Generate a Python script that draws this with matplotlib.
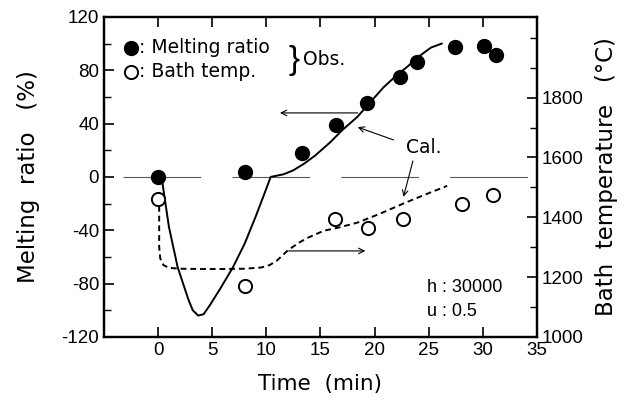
import numpy as np
import matplotlib
matplotlib.use("Agg")
import matplotlib.pyplot as plt
from matplotlib.ticker import MultipleLocator
from matplotlib import font_manager

plt.rcParams['axes.unicode_minus'] = False

# observed melting ratio (%)
obs_t = [0.0, 8.0, 13.3, 16.4, 19.3, 22.3, 23.9, 27.4, 30.1, 31.2]
obs_melt = [0.0, 4.0, 18.0, 39.0, 55.5, 75.0, 86.0, 97.5, 98.0, 91.5]

# observed bath temperature (C)
obs_tt = [0.0, 8.0, 16.3, 19.4, 22.6, 28.1, 30.9]
obs_temp = [1462, 1171, 1395, 1365, 1395, 1445, 1475]

# calculated melting ratio
cal_t = [0.4, 1.0, 1.8, 2.8, 3.2, 3.7, 4.2, 4.8, 5.8, 6.9, 8.0, 9.0, 9.8, 10.4,
         11.0, 11.6, 12.5, 13.5, 14.5, 15.9, 17.0, 18.4, 19.6, 20.8, 22.0,
         23.0, 24.2, 25.2, 26.2]
cal_melt = [-4.5, -37.5, -67.5, -92, -100, -104, -103, -96, -83, -68, -50, -30,
            -13, 0, 1, 2, 5, 10, 16, 26, 35, 45, 56, 67, 76, 82.5, 91, 97, 100]

# calculated bath temperature
calT_t = [0.1, 0.1, 0.2, 0.5, 1.0, 2.0, 4.0, 6.0, 8.0, 9.5, 10.3, 11.0, 12.0,
          13.0, 13.8, 15.3, 16.6, 18.4, 20.5, 22.6, 24.6, 26.7]
calT_temp = [1438, 1300, 1262, 1240, 1231, 1228, 1227, 1227, 1228, 1232, 1240,
             1256, 1290, 1315, 1331, 1355, 1365, 1382, 1412, 1445, 1475, 1505]

installed = {f.name for f in font_manager.fontManager.ttflist}
narrow = 'Liberation Sans Narrow' if 'Liberation Sans Narrow' in installed else 'Liberation Sans'
tickfont = [narrow, 'DejaVu Sans']

fig = plt.figure(figsize=(6.34, 4.03), dpi=100)
ax = fig.add_axes([0.164, 0.164, 0.683, 0.794])
ax2 = ax.twinx()

# zero reference line
ax.plot([-3.2, 34.6], [0, 0], color='0.35', lw=0.8, dashes=(70, 28))

ax.plot(cal_t, cal_melt, color='k', lw=1.4)
ax2.plot(calT_t, calT_temp, color='k', lw=1.4, ls=(0, (3, 2)))

ax.plot(obs_t, obs_melt, 'o', color='k', ms=10)
ax2.plot(obs_tt, obs_temp, 'o', mfc='white', mec='k', mew=1.4, ms=9.5)

ax.set_xlim(-5, 35)
ax.set_ylim(-120, 120)

ax.set_xticks(np.arange(0, 36, 5))
ax.yaxis.set_major_locator(MultipleLocator(40))
ax.yaxis.set_minor_locator(MultipleLocator(20))
ax2.set_yticks(np.arange(1000, 1801, 200))
ax2.yaxis.set_minor_locator(MultipleLocator(100))
ax2.set_ylim(1000, 2070)

ax.tick_params(axis='both', which='both', direction='in', top=True,
               labelsize=13.5, labelfontfamily=tickfont)
ax.tick_params(which='major', length=7, width=1.2)
ax.tick_params(which='minor', length=5, width=1.0)
ax2.tick_params(axis='y', which='both', direction='in', labelsize=13.5,
                labelfontfamily=tickfont)
ax2.tick_params(which='major', length=7, width=1.2)
ax2.tick_params(which='minor', length=5, width=1.0)
for a in (ax, ax2):
    for s in a.spines.values():
        s.set_linewidth(1.6)

ax.set_xlabel('Time  (min)', fontsize=15.5, va='center')
ax.xaxis.set_label_coords(0.5, -0.146)
ax.set_ylabel('Melting  ratio   (%)', fontsize=16.5, va='center')
ax.yaxis.set_label_coords(-0.175, 0.5)
ax2.set_ylabel('Bath  temperature   (°C)', fontsize=16.5, va='center')
ax2.yaxis.set_label_coords(1.16, 0.5)

# legend drawn by hand
ax.plot([-2.5], [96.8], 'o', color='k', ms=10)
ax.plot([-2.5], [78.8], 'o', mfc='white', mec='k', mew=1.4, ms=9.5)
ax.text(-1.8, 96.8, ': Melting ratio', fontsize=13.5, va='center')
ax.text(-1.8, 78.8, ': Bath temp.', fontsize=13.5, va='center')
ax.text(13.1, 87.5, '}', fontsize=24, va='center', ha='right', color='k',
        family=['Liberation Sans', 'DejaVu Sans'])
ax.text(13.4, 88, 'Obs.', fontsize=13.5, va='center')

# direction arrows
ax.annotate('', xy=(11.0, 48), xytext=(18.7, 48),
            arrowprops=dict(arrowstyle='->', lw=0.8, color='k'))
ax.annotate('', xy=(19.4, -55.5), xytext=(11.8, -55.5),
            arrowprops=dict(arrowstyle='->', lw=0.8, color='k'))

ax.text(24.5, 22, 'Cal.', fontsize=13.5, ha='center', va='center')
ax.annotate('', xy=(18.2, 38), xytext=(22.0, 27),
            arrowprops=dict(arrowstyle='->', lw=0.8, color='k'))
ax.annotate('', xy=(22.6, -17), xytext=(23.6, 14),
            arrowprops=dict(arrowstyle='->', lw=0.8, color='k'))

ax.text(24.8, -83, 'h : 30000', fontsize=13, va='center', family=tickfont)
ax.text(24.8, -101, 'u : 0.5', fontsize=13, va='center', family=tickfont)

fig.savefig('out.png', dpi=100)
